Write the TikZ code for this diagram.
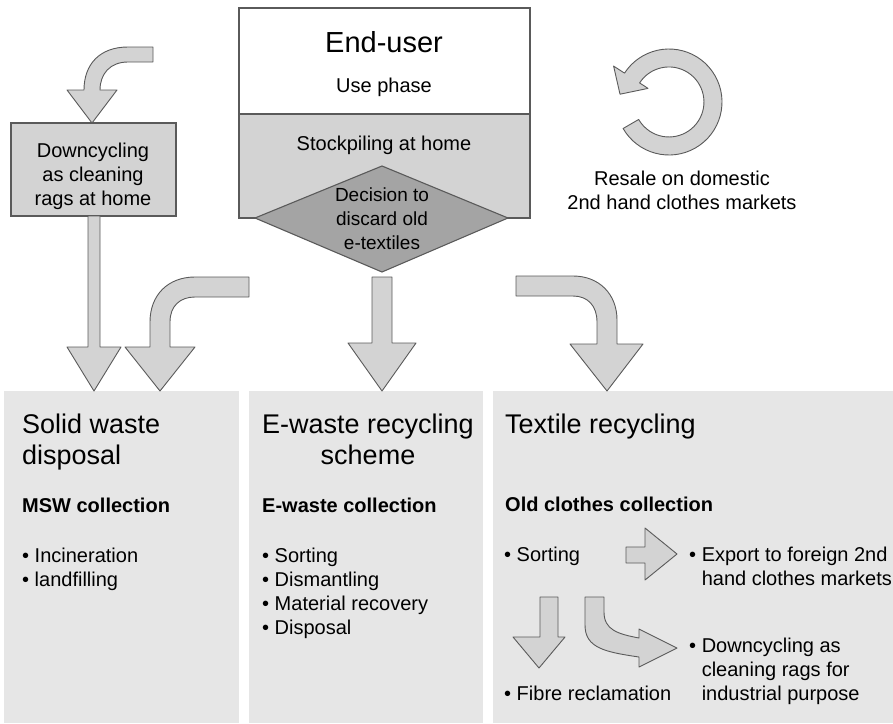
\documentclass[tikz,border=0pt]{standalone}
\usepackage{fontspec}
\setmainfont{Liberation Sans}
\definecolor{panelgray}{HTML}{E6E6E6}
\definecolor{arrowgray}{HTML}{D3D3D3}
\definecolor{diamondgray}{HTML}{A4A4A4}
\definecolor{edgegray}{HTML}{5A5A5A}
\tikzset{
	blockarrow/.style={fill=arrowgray, draw=edgegray, line width=0.9pt, line join=round},
	panel/.style={fill=panelgray, draw=none},
	boxline/.style={draw=edgegray, line width=1.4pt},
	txt/.style={font=\fontsize{20}{24}\selectfont, inner sep=0pt},
	bigtxt/.style={font=\fontsize{27}{31}\selectfont, inner sep=0pt},
	headtxt/.style={font=\bfseries\fontsize{20}{24}\selectfont, inner sep=0pt}
}
\begin{document}
\begin{tikzpicture}[x=1pt, y=-1pt]
	\useasboundingbox (0,0) rectangle (893,723);
	\fill [panel] (4,391) rectangle (239,723);
	\fill [panel] (249,391) rectangle (483,723);
	\fill [panel] (493,391) rectangle (893,723);
	\draw [boxline, fill=white] (239,8) rectangle (530,114);
	\draw [boxline, fill=arrowgray] (239,114) rectangle (530,218);
	\draw [boxline, line width=1.1pt, fill=diamondgray] (255,218) -- (382,166) -- (508,218) -- (382,272) -- cycle;
	\node [anchor=base, inner sep=0pt, font=\fontsize{29}{34}\selectfont] (enduser) at (384,52) {End-user};
	\node [txt, anchor=base] (usephase) at (384,92) {Use phase};
	\node [txt, anchor=base] (stockpile) at (384,150) {Stockpiling at home};
	\node [txt, anchor=base, align=center, font=\fontsize{19}{24}\selectfont] (decision) at (382,249) {Decision to\\discard old\\e-textiles};
	\draw [boxline, fill=arrowgray] (11,123) rectangle (176,216);
	\node [txt, anchor=base, align=center] (downcyc) at (93,205) {Downcycling\\as cleaning\\rags at home};
	\draw [blockarrow] (153,47) -- (128,47) .. controls (100,47) and (84,64) .. (84,90) -- (67,90) -- (92,123) -- (117,90) -- (100,90) .. controls (100,74) and (110,62) .. (128,62) -- (153,62) -- cycle;
	\draw [blockarrow] (88,216) -- (88,347) -- (67,347) -- (94,391) -- (121,347) -- (100,347) -- (100,216) -- cycle;
	\draw [blockarrow] (249,277) -- (195,277) .. controls (168,277) and (150,295) .. (150,322) -- (150,347) -- (125,347) -- (160,391) -- (195,347) -- (170,347) -- (170,322) .. controls (170,306) and (180,297) .. (195,297) -- (249,297) -- cycle;
	\draw [blockarrow] (372,277) -- (372,343) -- (348,343) -- (382,391) -- (416,343) -- (392,343) -- (392,277) -- cycle;
	\draw [blockarrow] (516,276) -- (573,276) .. controls (599,276) and (617,294) .. (617,320) -- (617,344) -- (643,344) -- (607,391) -- (570,344) -- (597,344) -- (597,322) .. controls (597,306) and (588,296) .. (573,296) -- (516,296) -- cycle;
	\draw [blockarrow] (623.1,128.5) arc [start angle=150, end angle=-147, radius=53] -- (613.6,66.1) -- (620,94.2) -- (648,88.4) -- (639.6,82.9) arc [start angle=-147, end angle=150, radius=35] -- cycle;
	\node [txt, anchor=base, align=center] (resale) at (682,209) {Resale on domestic\\2nd hand clothes markets};
	\node [bigtxt, anchor=base west, align=left] (solid) at (22,464) {Solid waste\\disposal};
	\node [headtxt, anchor=base west] (msw) at (22,512) {MSW collection};
	\node [txt, anchor=base west, align=left] (mswlist) at (22,586) {• Incineration\\• landfilling};
	\node [bigtxt, anchor=base, align=center] (ewaste) at (368,464) {E-waste recycling\\scheme};
	\node [headtxt, anchor=base west] (ewcoll) at (262,512) {E-waste collection};
	\node [txt, anchor=base west, align=left] (ewlist) at (262,634) {• Sorting\\• Dismantling\\• Material recovery\\• Disposal};
	\node [bigtxt, anchor=base west] (textile) at (505,433) {Textile recycling};
	\node [headtxt, anchor=base west] (oldcoll) at (505,511) {Old clothes collection};
	\node [txt, anchor=base west] (sorting) at (504,561) {• Sorting};
	\node [txt, anchor=base west, align=left] (export) at (689,585) {• Export to foreign 2nd\\\phantom{• }hand clothes markets};
	\node [txt, anchor=base west] (fibre) at (504,700) {• Fibre reclamation};
	\node [txt, anchor=base west, align=left] (industry) at (689,700) {• Downcycling as\\\phantom{• }cleaning rags for\\\phantom{• }industrial purpose};
	\draw [blockarrow] (626,547) -- (645,547) -- (645,528) -- (677,554) -- (645,580) -- (645,563) -- (626,563) -- cycle;
	\draw [blockarrow] (540,597) -- (558,597) -- (558,637) -- (565,637) -- (539,668) -- (513,637) -- (540,637) -- cycle;
	\draw [blockarrow] (585,597) -- (585,625) .. controls (585,648) and (605,652) .. (639,657) -- (639,667) -- (677,648) -- (639,629) -- (639,638) .. controls (618,634) and (604,630) .. (604,612) -- (604,597) -- cycle;
\end{tikzpicture}
\end{document}
